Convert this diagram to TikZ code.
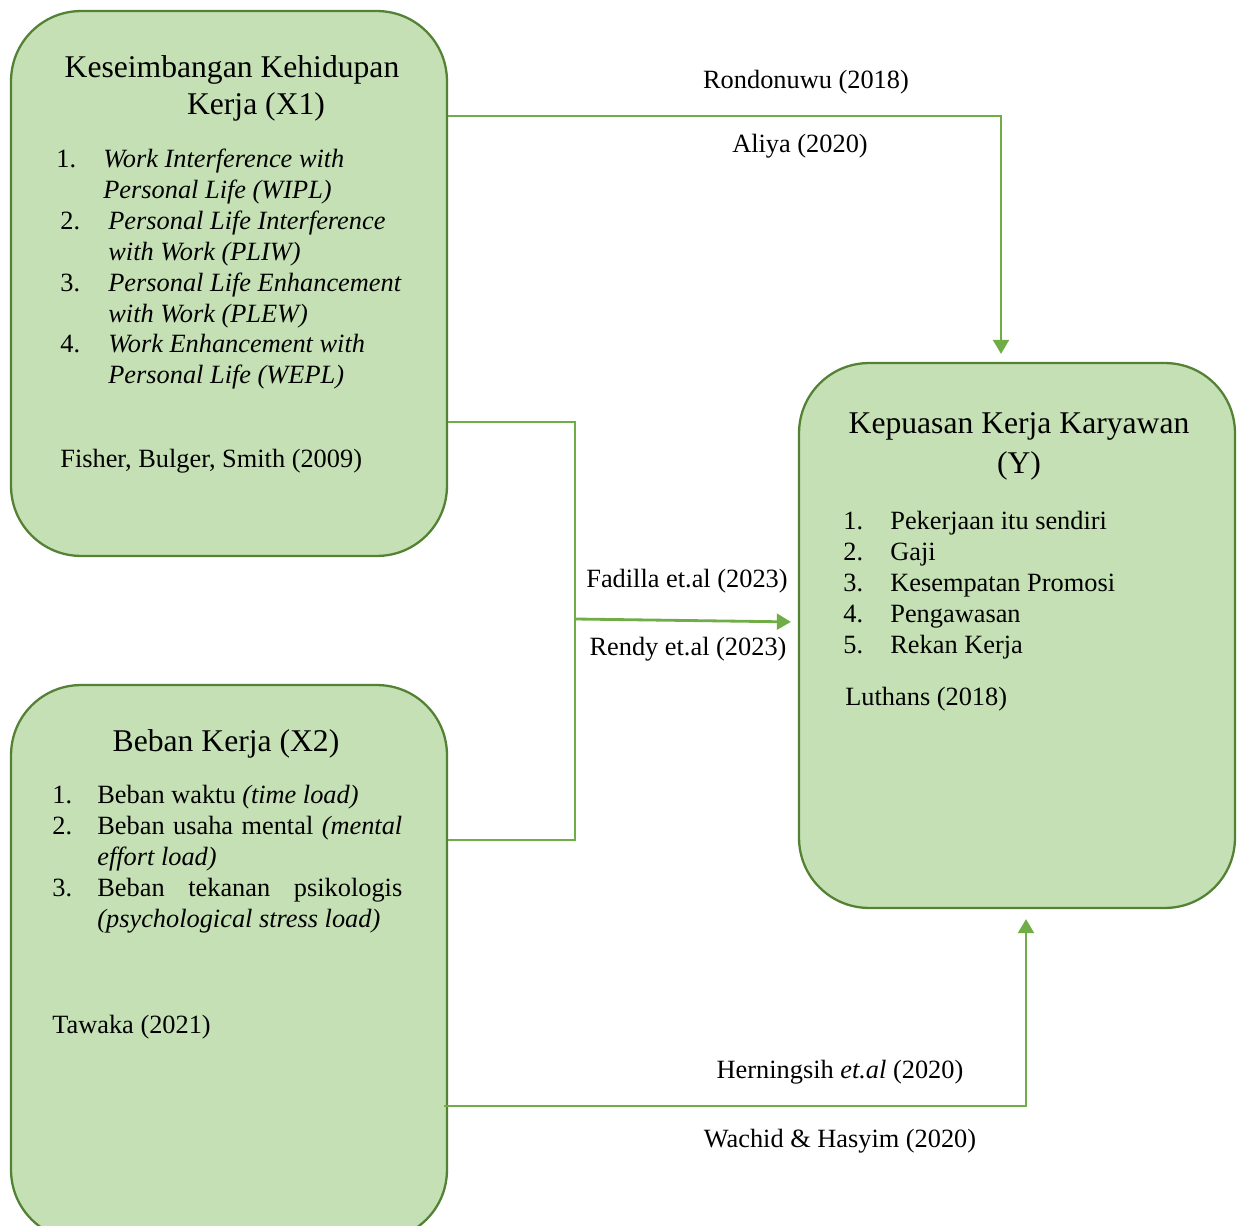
\documentclass[tikz,border=0pt]{standalone}
\usepackage{fontspec}
\setmainfont{Liberation Serif}
\usetikzlibrary{arrows.meta,calc}
\definecolor{boxfill}{HTML}{C5E0B4}
\definecolor{boxline}{HTML}{548235}
\definecolor{conncol}{HTML}{70AD47}
\begin{document}
\begin{tikzpicture}[x=0.02cm,y=-0.02cm,
 box/.style={draw=boxline,fill=boxfill,line width=1.3pt,rounded corners=1.4cm,minimum width=8.72cm,minimum height=10.9cm,inner sep=0},
 txt/.style={inner sep=0,anchor=base west,font=\fontsize{15}{17}\selectfont},
 ctxt/.style={inner sep=0,anchor=base,font=\fontsize{15}{17}\selectfont},
 ttl/.style={inner sep=0,anchor=base,font=\fontsize{18}{21}\selectfont},
 conn/.style={draw=conncol,line width=1.6pt},
 arr/.style={conn,-{Triangle[width=9pt,length=8pt]}}]
\useasboundingbox (0,0) rectangle (1241,1226);
\clip (0,0) rectangle (1241,1226);
\fill[white] (0,0) rectangle (1241,1226);
% boxes
\node[box] (X1) at (229,283.5) {};
\node[box,minimum height=11.1cm] (X2) at (229,962.5) {};
\node[box] (Y) at (1017,635.5) {};
% connectors
\coordinate (c1) at (1001,116);
\draw[arr,shorten >=0.16cm] (X1.east |- c1) -- (c1) -- (c1 |- Y.north);
\coordinate (j1) at (575,422);
\coordinate (j2) at (575,840);
\coordinate (jm) at (575,619);
\draw[conn] (X1.east |- j1) -- (j1) -- (j2) -- (X2.east |- j2);
\draw[arr,shorten >=0.14cm] (jm) -- ($(Y.west)+(0,-13.5)$);
\coordinate (c3) at (1026,1106);
\draw[arr,shorten >=0.2cm] ($(X2.east |- c3)+(-4,0)$) -- (c3) -- (c3 |- Y.south);
% X1 text
\node[ttl] (x1t1) at (232,78) {Keseimbangan Kehidupan};
\node[ttl] (x1t2) at (256,115) {Kerja (X1)};
\node[txt] (x1n1) at (56,168) {1.};
\node[txt] (x1a) at (103,168) {\textit{Work Interference with}};
\node[txt] (x1b) at (103,199) {\textit{Personal Life (WIPL)}};
\node[txt] (x1n2) at (60,230) {2.};
\node[txt] (x1c) at (108,230) {\textit{Personal Life Interference}};
\node[txt] (x1d) at (108,261) {\textit{with Work (PLIW)}};
\node[txt] (x1n3) at (60,292) {3.};
\node[txt] (x1e) at (108,292) {\textit{Personal Life Enhancement}};
\node[txt] (x1f) at (108,323) {\textit{with Work (PLEW)}};
\node[txt] (x1n4) at (60,353) {4.};
\node[txt] (x1g) at (108,353) {\textit{Work Enhancement with}};
\node[txt] (x1h) at (108,384) {\textit{Personal Life (WEPL)}};
\node[txt] (x1s) at (60,467) {Fisher, Bulger, Smith (2009)};
% X2 text
\node[ttl] (x2t) at (226,751) {Beban Kerja (X2)};
\node[txt] (x2n1) at (52,803) {1.};
\node[txt] (x2a) at (97,803) {Beban waktu \textit{(time load)}};
\node[txt] (x2n2) at (52,834) {2.};
\node[txt] (x2b) at (97,834) {\makebox[6.1cm][s]{Beban usaha mental \textit{(mental}}};
\node[txt] (x2c) at (97,865) {\textit{effort load)}};
\node[txt] (x2n3) at (52,896) {3.};
\node[txt] (x2d) at (97,896) {\makebox[6.1cm][s]{Beban tekanan psikologis}};
\node[txt] (x2e) at (97,927) {\textit{(psychological stress load)}};
\node[txt] (x2s) at (52,1033) {Tawaka (2021)};
% Y text
\node[ttl] (yt1) at (1019,434) {Kepuasan Kerja Karyawan};
\node[ttl] (yt2) at (1019,474) {(Y)};
\node[txt] (yn1) at (843,529) {1.};
\node[txt] (ya) at (890,529) {Pekerjaan itu sendiri};
\node[txt] (yn2) at (843,560) {2.};
\node[txt] (yb) at (890,560) {Gaji};
\node[txt] (yn3) at (843,591) {3.};
\node[txt] (yc) at (890,591) {Kesempatan Promosi};
\node[txt] (yn4) at (843,622) {4.};
\node[txt] (yd) at (890,622) {Pengawasan};
\node[txt] (yn5) at (843,653) {5.};
\node[txt] (ye) at (890,653) {Rekan Kerja};
\node[txt] (ys) at (845,705) {Luthans (2018)};
% connector labels
\node[ctxt] (l1) at (806,89) {Rondonuwu (2018)};
\node[ctxt] (l2) at (800,153) {Aliya (2020)};
\node[ctxt] (l3) at (687,587) {Fadilla et.al (2023)};
\node[ctxt] (l4) at (688,655) {Rendy et.al (2023)};
\node[ctxt] (l5) at (840,1078) {Herningsih \textit{et.al} (2020)};
\node[ctxt] (l6) at (840,1147) {Wachid \& Hasyim (2020)};
\end{tikzpicture}
\end{document}
